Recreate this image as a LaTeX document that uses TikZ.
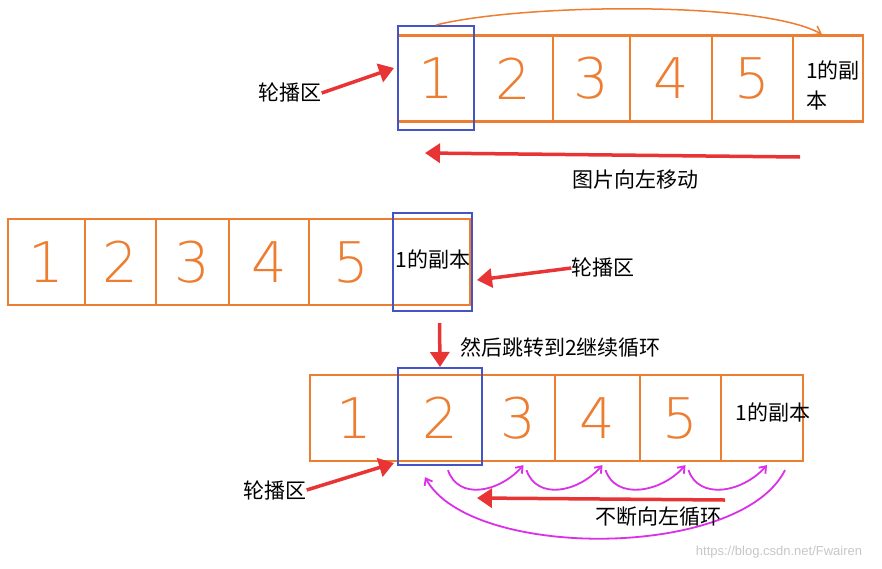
\documentclass[tikz,border=0pt]{standalone}
\usepackage{fontspec}
\setmainfont{Liberation Sans}
\newfontfamily\cjk{Noto Sans CJK SC}
\newfontfamily\digitfont{DejaVu Sans ExtraLight}
\usetikzlibrary{arrows.meta}
\definecolor{cellorange}{RGB}{237,125,49}
\definecolor{viewblue}{RGB}{68,84,196}
\definecolor{arrowred}{RGB}{232,52,52}
\definecolor{loopmagenta}{RGB}{218,48,232}
\begin{document}
\begin{tikzpicture}[x=1pt,y=-1pt,
    cell/.style={draw=cellorange, line width=2.2pt, inner sep=0pt, minimum height=86pt, text=cellorange, font=\digitfont\fontsize{56}{56}\selectfont},
    view/.style={draw=viewblue, line width=2pt, inner sep=0pt},
    lbl/.style={font=\cjk\fontsize{21}{30}\selectfont, inner sep=0pt},
    push/.style={draw=arrowred, line width=3.5pt, -{Triangle[length=15pt,width=19pt]}},
    hop/.style={draw=loopmagenta, line width=1.8pt, -{Straight Barb[length=6pt,width=9pt]}},
    swing/.style={draw=cellorange, line width=1.5pt, -{Straight Barb[length=7pt,width=10pt]}}]
    \useasboundingbox[fill=white] (0,0) rectangle (882,568);
    \node[cell, minimum width=76pt] (t1) at (436,78.5) {1};
    \node[cell, minimum width=79pt] (t2) at (513.5,78.5) {2};
    \node[cell, minimum width=77pt] (t3) at (591.5,78.5) {3};
    \node[cell, minimum width=82pt] (t4) at (671,78.5) {4};
    \node[cell, minimum width=81pt] (t5) at (752.5,78.5) {5};
    \node[cell, minimum width=70pt] (t6) at (828,78.5) {};
    \node[lbl, align=left, anchor=west] (tcopy) at (806,85) {1的副\\本};
    \node[view, minimum width=76pt, minimum height=104pt] (tview) at (436,78) {};
    \node[lbl] (tarea) at (290,93) {轮播区};
    \draw[push] (tarea.east) -- ([yshift=10pt,xshift=-3pt]tview.west);
    \draw[swing] (tview.north) .. controls (520,4) and (760,0) .. ([xshift=-6pt]t6.north);
    \coordinate (tfrom) at (800,157);
    \coordinate (tto) at (425,153);
    \draw[push] (tfrom) -- (tto);
    \node[lbl] (tmove) at (635,180) {图片向左移动};
    \node[cell, minimum width=77pt] (m1) at (46.5,262) {1};
    \node[cell, minimum width=71pt] (m2) at (120.5,262) {2};
    \node[cell, minimum width=73pt] (m3) at (192.5,262) {3};
    \node[cell, minimum width=80pt] (m4) at (269,262) {4};
    \node[cell, minimum width=84pt] (m5) at (351,262) {5};
    \node[cell, minimum width=77pt] (m6) at (431.5,262) {};
    \node[lbl] (mcopy) at (433,259) {1的副本};
    \node[view, minimum width=79pt, minimum height=98pt] (mview) at (432.5,262) {};
    \node[lbl] (marea) at (603,268) {轮播区};
    \draw[push] (marea.west) -- ([yshift=-18pt,xshift=4pt]mview.east);
    \node[lbl, anchor=west] (mjump) at (460,348) {然后跳转到2继续循环};
    \node[cell, minimum width=88pt] (b1) at (354,418) {1};
    \node[cell, minimum width=84pt] (b2) at (440,418) {2};
    \node[cell, minimum width=73pt] (b3) at (518.5,418) {3};
    \node[cell, minimum width=85pt] (b4) at (597.5,418) {4};
    \node[cell, minimum width=81pt] (b5) at (680.5,418) {5};
    \node[cell, minimum width=82pt] (b6) at (762,418) {};
    \node[lbl] (bcopy) at (773,412) {1的副本};
    \node[view, minimum width=84pt, minimum height=97pt] (bview) at (440,416.5) {};
    \draw[push] ([xshift=7pt,yshift=-11pt]mview.south) -- (bview.north);
    \node[lbl] (barea) at (275,490) {轮播区};
    \draw[push] (barea.east) -- ([xshift=-3pt,yshift=3pt]bview.south west);
    \foreach \a/\b in {b2/b3,b3/b4,b4/b5,b5/b6}
        \draw[hop] ([xshift=8pt,yshift=-8pt]\a.south) .. controls +(10,30) and +(-25,28) .. ([xshift=5pt,yshift=-3pt]\b.south);
    \draw[hop] ([xshift=23pt,yshift=-8pt]b6.south) .. controls (740,560) and (470,560) .. ([xshift=-15pt,yshift=-15pt]b2.south);
    \coordinate (bfrom) at (725,500);
    \coordinate (bto) at (477,498);
    \draw[push] (bfrom) -- (bto);
    \node[lbl] (bloop) at (658,517) {不断向左循环};
    \node[text=black!22, font=\fontsize{13}{13}\selectfont] (mark) at (779,552) {https://blog.csdn.net/Fwairen};
\end{tikzpicture}
\end{document}
